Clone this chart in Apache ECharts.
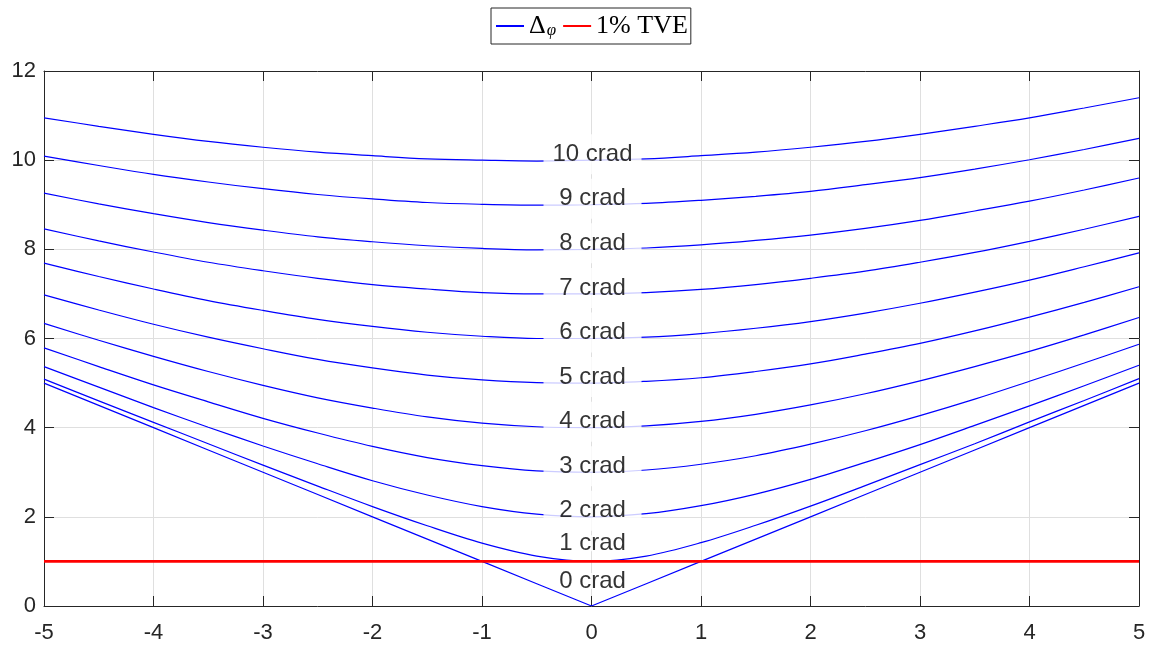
<!DOCTYPE html>
<html>
<head>
<meta charset="utf-8">
<script src="https://cdn.jsdelivr.net/npm/echarts@6/dist/echarts.min.js"></script>
<style>html,body{margin:0;padding:0;background:#fff}#c{width:1151px;height:645px}</style>
</head>
<body>
<div id="c"></div>
<script>
// x values (magnitude error, %)
const xValues = [-5,-4.5,-4,-3.5,-3,-2.5,-2,-1.5,-1,-0.5,0,0.5,1,1.5,2,2.5,3,3.5,4,4.5,5];
// curves (phase error in crad)
const phase0  = [5.00,4.50,4.00,3.50,3.00,2.50,2.00,1.50,1.00,0.50,0.00,0.50,1.00,1.50,2.00,2.50,3.00,3.50,4.00,4.50,5.00];
const phase1  = [5.09,4.60,4.12,3.64,3.16,2.69,2.23,1.80,1.41,1.12,1.00,1.12,1.42,1.81,2.24,2.70,3.17,3.64,4.13,4.61,5.10];
const phase2  = [5.37,4.91,4.45,4.01,3.59,3.19,2.81,2.49,2.23,2.06,2.00,2.07,2.25,2.51,2.84,3.22,3.62,4.05,4.49,4.94,5.40];
const phase3  = [5.79,5.37,4.96,4.58,4.21,3.88,3.58,3.33,3.15,3.03,3.00,3.05,3.18,3.37,3.63,3.93,4.27,4.64,5.04,5.45,5.87];
const phase4  = [6.34,5.96,5.60,5.26,4.95,4.67,4.44,4.24,4.10,4.02,4.00,4.04,4.14,4.30,4.51,4.76,5.05,5.37,5.71,6.08,6.47];
const phase5  = [6.98,6.64,6.32,6.03,5.77,5.53,5.34,5.18,5.07,5.01,5.00,5.04,5.12,5.26,5.43,5.65,5.89,6.17,6.48,6.81,7.16];
const phase6  = [7.69,7.39,7.11,6.85,6.63,6.43,6.27,6.14,6.05,6.00,6.00,6.03,6.11,6.23,6.38,6.57,6.79,7.04,7.31,7.61,7.92];
const phase7  = [8.46,8.19,7.94,7.71,7.52,7.35,7.21,7.11,7.03,7.00,7.00,7.03,7.10,7.21,7.35,7.51,7.71,7.93,8.18,8.45,8.74];
const phase8  = [9.26,9.02,8.80,8.60,8.43,8.28,8.17,8.08,8.02,7.99,8.00,8.03,8.10,8.20,8.32,8.47,8.65,8.86,9.08,9.33,9.60];
const phase9  = [10.09,9.88,9.68,9.51,9.36,9.23,9.13,9.05,9.01,8.99,9.00,9.03,9.10,9.19,9.30,9.45,9.61,9.80,10.01,10.24,10.49];
const phase10 = [10.95,10.76,10.58,10.42,10.29,10.18,10.10,10.03,10.00,9.98,10.00,10.03,10.10,10.18,10.29,10.42,10.58,10.76,10.95,11.17,11.40];
const curves = [phase0,phase1,phase2,phase3,phase4,phase5,phase6,phase7,phase8,phase9,phase10];

// contour labels
const gapLabelNames = ['10 crad','9 crad','8 crad','7 crad','6 crad','5 crad','4 crad','3 crad','2 crad'];
const gapLabelY = [10,9,8,7,6,5,4,3,2];
const freeLabelNames = ['1 crad','0 crad'];
const freeLabelY = [1.41,0.56];

// TVE limit
const tveLevel = 1;
const tveRange = [-5,5];

const xTicks = {min:-5,max:5,interval:1};
const yTicks = {min:0,max:12,interval:2};

const BLUE = '#0000ff';
const FONT = '"Liberation Sans", Arial, Helvetica, sans-serif';
const AXC = '#262626';

const series = [];
curves.forEach((c, k) => {
  series.push({
    name: 'Δφ', type: 'line', symbol: 'none', smooth: k === 0 ? false : 0.35,
    xAxisIndex: 0, yAxisIndex: 0,
    lineStyle: {color: BLUE, width: 1.2}, itemStyle: {color: BLUE},
    data: xValues.map((x, i) => [x, c[i]]), z: 2, silent: true
  });
});
series.push({
  name: '1% TVE', type: 'line', symbol: 'none',
  lineStyle: {color: '#ff0000', width: 2.6}, itemStyle: {color: '#ff0000'},
  data: tveRange.map(x => [x, tveLevel]), z: 4, silent: true
});
series.push({
  name: 'gapLabels', type: 'scatter', symbolSize: 0, z: 6, silent: true,
  data: gapLabelY.map((y, i) => ({value: [0, y], name: gapLabelNames[i]})),
  label: {
    show: true, position: 'inside', formatter: p => p.name,
    fontFamily: FONT, fontSize: 24, color: '#000',
    backgroundColor: '#fff', width: 90, align: 'center',
    lineHeight: 24, padding: [8, 4, 8, 4], offset: [1, -6]
  }
});
series.push({
  name: 'freeLabels', type: 'scatter', symbolSize: 0, z: 6, silent: true,
  data: freeLabelY.map((y, i) => ({value: [0, y], name: freeLabelNames[i]})),
  label: {
    show: true, position: 'inside', formatter: p => p.name,
    fontFamily: FONT, fontSize: 24, color: '#000',
    backgroundColor: '#fff', lineHeight: 16, padding: [0, 0, 0, 0], offset: [1, 0]
  }
});

const baseX = {
  type: 'value', min: xTicks.min, max: xTicks.max, interval: xTicks.interval,
  axisLine: {show: true, onZero: false, lineStyle: {color: AXC, width: 1}},
  axisTick: {show: true, inside: true, length: 10, lineStyle: {color: AXC}}
};
const baseY = {
  type: 'value', min: yTicks.min, max: yTicks.max, interval: yTicks.interval,
  axisLine: {show: true, onZero: false, lineStyle: {color: AXC, width: 1}},
  axisTick: {show: true, inside: true, length: 10, lineStyle: {color: AXC}}
};

const chart = echarts.init(document.getElementById('c'), null, {renderer: 'canvas'});
chart.setOption({
  animation: false,
  backgroundColor: '#fff',
  grid: {left: 44, right: 12, top: 71, bottom: 39, containLabel: false},
  legend: {
    data: ['Δφ', '1% TVE'],
    left: 491, top: 8,
    orient: 'horizontal',
    itemWidth: 28, itemHeight: 14, itemGap: 6,
    padding: [5, 3, 5, 4],
    borderColor: '#262626', borderWidth: 1, borderRadius: 0,
    backgroundColor: '#fff',
    itemStyle: {opacity: 0, borderWidth: 0},
    formatter: n => n === 'Δφ' ? '{a|Δ}{b|φ}' : '{c|1% TVE}',
    textStyle: {
      color: '#000', fontFamily: '"Liberation Serif", "DejaVu Serif", serif',
      rich: {
        a: {fontSize: 26, fontFamily: '"Liberation Serif", serif', lineHeight: 24, color: '#000'},
        b: {fontSize: 17, fontStyle: 'italic', fontFamily: '"Liberation Serif", serif', lineHeight: 17, padding: [9, 0, 0, 1], color: '#000'},
        c: {fontSize: 26, fontFamily: '"Liberation Serif", serif', lineHeight: 24, color: '#000'}
      }
    }
  },
  xAxis: [
    Object.assign({}, baseX, {
      position: 'bottom',
      axisLabel: {show: true, margin: 16, fontSize: 22, color: AXC, fontFamily: FONT},
      splitLine: {show: true, lineStyle: {color: '#dfdfdf', width: 1}}
    }),
    Object.assign({}, baseX, {
      position: 'top', axisLabel: {show: false}, splitLine: {show: false}
    })
  ],
  yAxis: [
    Object.assign({}, baseY, {
      position: 'left',
      axisLabel: {show: true, margin: 8, fontSize: 22, color: AXC, fontFamily: FONT},
      splitLine: {show: true, lineStyle: {color: '#dfdfdf', width: 1}}
    }),
    Object.assign({}, baseY, {
      position: 'right', axisLabel: {show: false}, splitLine: {show: false}
    })
  ],
  series: series
});
</script>
</body>
</html>
